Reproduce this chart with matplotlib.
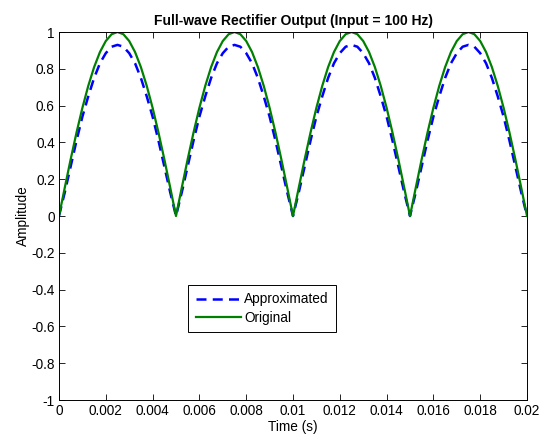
import numpy as np
import matplotlib.pyplot as plt

plt.rcParams['font.family'] = ['Liberation Sans', 'DejaVu Sans']

# one hump (half period of the 100 Hz input), sampled every 0.25 ms
hump_orig = [0.0, 0.156, 0.309, 0.454, 0.588, 0.707, 0.809, 0.891, 0.951, 0.988, 1.0,
             0.988, 0.951, 0.891, 0.809, 0.707, 0.588, 0.454, 0.309, 0.156]
hump_appr = [0.0, 0.13, 0.27, 0.41, 0.54, 0.65, 0.75, 0.83, 0.885, 0.92, 0.93,
             0.92, 0.885, 0.83, 0.75, 0.65, 0.54, 0.41, 0.27, 0.13]

original = hump_orig * 4 + [0.0]
approximated = hump_appr * 4 + [0.0]
t = [i * 0.00025 for i in range(len(original))]

xticks = [0, 0.002, 0.004, 0.006, 0.008, 0.01, 0.012, 0.014, 0.016, 0.018, 0.02]
xticklabels = ['0', '0.002', '0.004', '0.006', '0.008', '0.01', '0.012', '0.014',
               '0.016', '0.018', '0.02']
yticks = [-1, -0.8, -0.6, -0.4, -0.2, 0, 0.2, 0.4, 0.6, 0.8, 1]
yticklabels = ['-1', '-0.8', '-0.6', '-0.4', '-0.2', '0', '0.2', '0.4', '0.6', '0.8', '1']

fig = plt.figure(figsize=(5.4, 4.41), dpi=100)
ax = fig.add_axes([59 / 540, 41 / 441, 468 / 540, 368 / 441])

ax.plot(t, approximated, color='blue', lw=1.8, ls=(0, (4, 2.5)), label='Approximated')
ax.plot(t, original, color=(0, 0.5, 0), lw=1.6, label='Original')

ax.set_xlim(0, 0.02)
ax.set_ylim(-1, 1)
ax.set_xticks(xticks)
ax.set_xticklabels(xticklabels)
ax.set_yticks(yticks)
ax.set_yticklabels(yticklabels)
ax.tick_params(direction='in', top=True, right=True, labelsize=9.8, length=4, width=0.6, pad=3)
for s in ax.spines.values():
    s.set_linewidth(0.7)

ax.set_title('Full-wave Rectifier Output (Input = 100 Hz)', fontsize=10, fontweight='bold', pad=5)
ax.set_xlabel('Time (s)', fontsize=9.8, labelpad=1)
ax.set_ylabel('Amplitude', fontsize=9.8, labelpad=1)

leg = ax.legend(loc='upper left', bbox_to_anchor=(0.276, 0.3125), fontsize=9.8,
                fancybox=False, framealpha=1, edgecolor='black', handlelength=3.3,
                borderpad=0.55, labelspacing=0.3, handletextpad=0.25, borderaxespad=0)
leg.get_frame().set_linewidth(0.7)

fig.savefig('out.png', dpi=100)
